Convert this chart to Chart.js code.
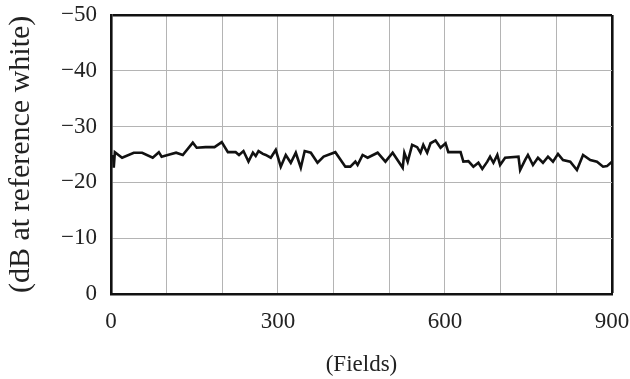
<!DOCTYPE html>
<html>
<head>
<meta charset="utf-8">
<script src="https://cdn.jsdelivr.net/npm/chart.js@4.4.1/dist/chart.umd.min.js"></script>
<style>
html,body{margin:0;padding:0;background:#fff;}
#wrap{width:630px;height:379px;}
</style>
</head>
<body>
<div id="wrap"><canvas id="chart" width="630" height="379"></canvas></div>
<script>
// field number vs. level (dB at reference white)
const fields=[4,5,7,20,41,56,75,86,91,102,117,129,147,154,170,186,199,210,224,230,238,247,255,260,265,273,278,287,296,305,314,323,332,341,348,359,371,382,403,421,430,439,443,452,461,479,493,506,524,527,533,541,550,556,561,568,574,583,592,601,606,628,633,642,651,660,667,676,681,687,694,699,708,732,735,744,749,758,767,776,785,794,803,812,825,837,848,861,873,884,891,900];
const levels=[-24.9,-22.6,-25.4,-24.4,-25.3,-25.3,-24.4,-25.4,-24.6,-24.9,-25.3,-24.9,-27.1,-26.2,-26.3,-26.3,-27.2,-25.4,-25.4,-24.9,-25.6,-23.7,-25.3,-24.7,-25.6,-25.1,-24.9,-24.4,-25.8,-22.8,-24.9,-23.5,-25.3,-22.6,-25.6,-25.3,-23.5,-24.6,-25.4,-22.8,-22.8,-23.7,-23.1,-24.9,-24.4,-25.3,-23.7,-25.3,-22.6,-25.3,-23.7,-26.7,-26.3,-25.3,-26.7,-25.3,-27.0,-27.5,-26.2,-27.0,-25.4,-25.4,-23.7,-23.8,-22.8,-23.5,-22.4,-23.7,-24.6,-23.5,-24.9,-23.1,-24.4,-24.6,-22.2,-24.0,-24.9,-23.1,-24.4,-23.5,-24.6,-23.7,-25.1,-24.0,-23.7,-22.2,-24.9,-24.0,-23.7,-22.8,-22.9,-23.7];
const xLabeled=[0,300,600,900];
const yTicks=[0,-10,-20,-30,-40,-50];

const FONT='"Liberation Serif","Times New Roman",serif';
const GRID='#b4b4b4';

new Chart(document.getElementById('chart').getContext('2d'),{
  type:'line',
  data:{datasets:[{
    data:fields.map((f,i)=>({x:f,y:levels[i]})),
    borderColor:'#111',borderWidth:2.6,pointRadius:0,tension:0,fill:false
  }]},
  options:{
    responsive:false,animation:false,
    layout:{padding:{top:0,right:0,left:3,bottom:0}},
    plugins:{legend:{display:false},tooltip:{enabled:false}},
    scales:{
      x:{type:'linear',min:0,max:900,
        afterFit:s=>{s.paddingRight=18;},
        ticks:{stepSize:100,padding:14,color:'#222',font:{family:FONT,size:23},
          callback:v=>xLabeled.includes(v)?String(v):''},
        grid:{drawTicks:false,
          color:c=>(c.tick&&c.tick.value===900)?'#111':GRID,
          lineWidth:c=>(c.tick&&c.tick.value===900)?2.6:1},
        border:{display:true,color:'#111',width:2.6},
        title:{display:true,text:'(Fields)',color:'#222',font:{family:FONT,size:23},padding:{top:2,bottom:0}}
      },
      y:{type:'linear',min:-50,max:0,reverse:true,
        afterFit:s=>{s.paddingTop=15;},
        afterBuildTicks:a=>{a.ticks=yTicks.map(v=>({value:v}));},
        ticks:{padding:14,color:'#222',font:{family:FONT,size:23},
          callback:v=>String(v).replace('-','\u2212')},
        grid:{drawTicks:false,
          color:c=>(c.tick&&c.tick.value===-50)?'#111':GRID,
          lineWidth:c=>(c.tick&&c.tick.value===-50)?2.6:1},
        border:{display:true,color:'#111',width:2.6},
        title:{display:true,text:'(dB at reference white)',color:'#222',font:{family:FONT,size:30},padding:{top:0,bottom:8}}
      }
    }
  }
});
</script>
</body>
</html>
